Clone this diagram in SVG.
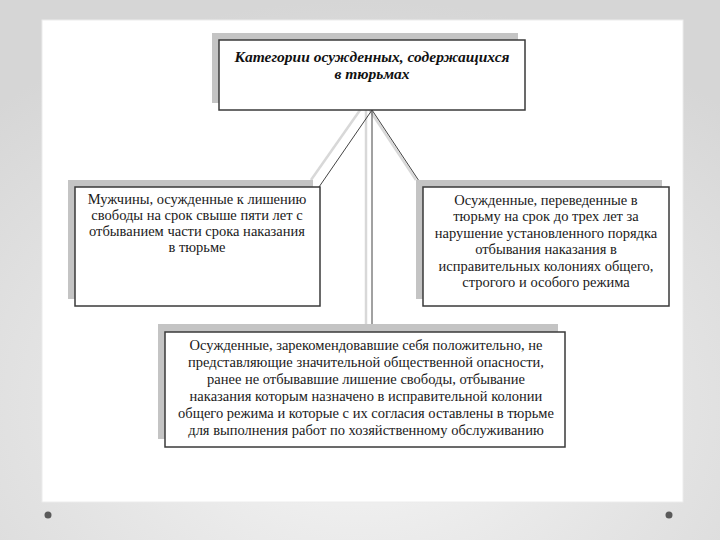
<svg xmlns="http://www.w3.org/2000/svg" width="720" height="540" viewBox="0 0 720 540">
<defs>
<radialGradient id="bg" cx="0.5" cy="0.75" r="0.75">
<stop offset="0" stop-color="#f6f6f6"/>
<stop offset="1" stop-color="#d6d6d6"/>
</radialGradient>
<style>
.shadow{fill:#c4c4c4;stroke:none}
.lshadow{fill:none;stroke:#d8d8d8;stroke-width:2.5}
.box{fill:#ffffff;stroke:#3a3a3a;stroke-width:1.5}
.conn{fill:none;stroke:#444;stroke-width:1}
.t{font-family:"Liberation Serif","DejaVu Serif",serif;font-size:14.5px;fill:#1a1a1a;text-anchor:middle}
.title{font-family:"Liberation Serif","DejaVu Serif",serif;font-size:15.5px;font-weight:bold;font-style:italic;fill:#111;text-anchor:middle}
.dot{fill:#5a5a5a}
</style>
</defs>
<rect width="720" height="540" fill="url(#bg)"/>
<rect x="42" y="20" width="641" height="482" fill="#ffffff" stroke="#ececec" stroke-width="1"/>
<circle class="dot" cx="48" cy="515" r="3.5"/>
<circle class="dot" cx="669" cy="515" r="3.5"/>

<g id="connector-shadows">
<path class="lshadow" d="M365 103 L311 180"/>
<path class="lshadow" d="M366 103 L366 325"/>
<path class="lshadow" d="M365 103 L416 180"/>
</g>

<g id="connectors">
<path class="conn" d="M372 110 L319 187"/>
<path class="conn" d="M372 110 L372 332"/>
<path class="conn" d="M372 110 L423 187"/>
</g>

<g id="node-top">
<rect class="shadow" x="212" y="33" width="306" height="70"/>
<rect class="box" x="219" y="40" width="306" height="70"/>
<text class="title" x="372" y="62">Категории осужденных, содержащихся</text>
<text class="title" x="372" y="79">в тюрьмах</text>
</g>

<g id="node-left">
<rect class="shadow" x="68" y="180" width="245" height="119"/>
<rect class="box" x="75" y="187" width="245" height="119"/>
<text class="t" x="197" y="204">Мужчины, осужденные к лишению</text>
<text class="t" x="197" y="220">свободы на срок свыше пяти лет с</text>
<text class="t" x="197" y="236">отбыванием части срока наказания</text>
<text class="t" x="197" y="252">в тюрьме</text>
</g>

<g id="node-right">
<rect class="shadow" x="416" y="180" width="246" height="119"/>
<rect class="box" x="423" y="187" width="246" height="119"/>
<text class="t" x="546" y="205">Осужденные, переведенные в</text>
<text class="t" x="546" y="221">тюрьму на срок до трех лет за</text>
<text class="t" x="546" y="238">нарушение установленного порядка</text>
<text class="t" x="546" y="254">отбывания наказания в</text>
<text class="t" x="546" y="271">исправительных колониях общего,</text>
<text class="t" x="546" y="287">строгого и особого режима</text>
</g>

<g id="node-bottom">
<rect class="shadow" x="158" y="324" width="400" height="115"/>
<rect class="box" x="165" y="332" width="400" height="115"/>
<text class="t" x="366" y="350">Осужденные, зарекомендовавшие себя положительно, не</text>
<text class="t" x="366" y="367">представляющие значительной общественной опасности,</text>
<text class="t" x="366" y="384">ранее не отбывавшие лишение свободы, отбывание</text>
<text class="t" x="366" y="401">наказания которым назначено в исправительной колонии</text>
<text class="t" x="366" y="418">общего режима и которые с их согласия оставлены в тюрьме</text>
<text class="t" x="366" y="435">для выполнения работ по хозяйственному обслуживанию</text>
</g>
</svg>
